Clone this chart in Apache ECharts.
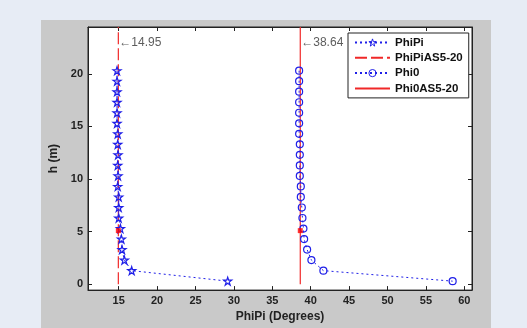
<!DOCTYPE html>
<html><head><meta charset="utf-8">
<script src="https://cdn.jsdelivr.net/npm/echarts@6/dist/echarts.min.js"></script>
<style>html,body{margin:0;padding:0;background:#e7ecf5;}#c{width:527px;height:328px;}</style>
</head><body><div id="c"></div>
<script>
const hValues = [20.3,19.3,18.3,17.3,16.3,15.3,14.3,13.3,12.3,11.3,10.3,9.3,8.3,7.3,6.3,5.3,4.3,3.3,2.3,1.3,0.3];
const phiPi = [14.78,14.78,14.78,14.78,14.78,14.78,14.87,14.87,14.91,14.87,14.91,14.87,15.0,15.0,15.0,15.22,15.35,15.43,15.74,16.69,29.19];
const phi0 = [38.49,38.49,38.49,38.49,38.49,38.49,38.49,38.58,38.58,38.58,38.58,38.71,38.71,38.84,38.92,39.05,39.14,39.53,40.09,41.65,58.48];
const phiPiAS = 14.95;
const phi0AS = 38.64;
const markH = 5.1;
const annotH = 23;
const xRange = [11, 61];
const yRange = [-0.55, 24.45];
const seriesNames = ['PhiPi','PhiPiAS5-20','Phi0','Phi0AS5-20'];

const blue = '#1f1fe8';
const red = '#f02828';
const clear = 'rgba(255,255,255,0)';
const star = 'path://M10,0L12.25,6.91L19.51,6.91L13.63,11.18L15.88,18.09L10,13.82L4.12,18.09L6.37,11.18L0.49,6.91L7.75,6.91Z';
const font = 'Liberation Sans, Arial, sans-serif';

const chart = echarts.init(document.getElementById('c'), null, {renderer:'canvas'});
const zip = (xs, ys) => xs.map((x,i)=>[x, ys[i]]);
const labelFmt = v => (Math.abs(v % 5) < 1e-9 ? String(v) : '');
const axisCommon = {
  axisLine:{show:true, onZero:false, lineStyle:{color:'#222', width:1}},
  axisTick:{show:true, inside:true, length:4, lineStyle:{color:'#222'}},
  splitLine:{show:false},
};
chart.setOption({
  backgroundColor:'#e7ecf5',
  animation:false,
  graphic:[{type:'rect', z:-10, silent:true, shape:{x:41,y:20,width:450,height:310}, style:{fill:'#c9c9c9'}}],
  grid:{left:88, right:55, top:27, bottom:28, show:true, backgroundColor:'#ffffff', borderColor:'#222', borderWidth:1},
  xAxis:[
    Object.assign({type:'value', min:xRange[0], max:xRange[1], splitNumber:10, position:'bottom',
      name:'PhiPi (Degrees)', nameLocation:'middle', nameGap:15,
      nameTextStyle:{fontFamily:font, fontWeight:'bold', fontSize:12, color:'#222'},
      axisLabel:{formatter:labelFmt, showMinLabel:false, showMaxLabel:false, margin:5, fontFamily:font, fontWeight:'bold', fontSize:11, color:'#222'}}, axisCommon),
    Object.assign({type:'value', min:xRange[0], max:xRange[1], splitNumber:10, position:'top',
      axisLabel:{show:false}}, axisCommon)
  ],
  yAxis:[
    Object.assign({type:'value', min:yRange[0], max:yRange[1], splitNumber:5, position:'left',
      name:'h (m)', nameLocation:'middle', nameGap:23,
      nameTextStyle:{fontFamily:font, fontWeight:'bold', fontSize:12, color:'#222'},
      axisLabel:{formatter:labelFmt, showMinLabel:false, showMaxLabel:false, margin:5, fontFamily:font, fontWeight:'bold', fontSize:11, color:'#222'}}, axisCommon),
    Object.assign({type:'value', min:yRange[0], max:yRange[1], splitNumber:5, position:'right',
      axisLabel:{show:false}}, axisCommon)
  ],
  legend:{
    data:[
      {name:seriesNames[0], itemStyle:{color:clear, borderColor:blue, borderWidth:1}},
      {name:seriesNames[1], itemStyle:{opacity:0}},
      {name:seriesNames[2], itemStyle:{color:clear, borderColor:blue, borderWidth:1}},
      {name:seriesNames[3], itemStyle:{opacity:0}}
    ],
    orient:'vertical', left:348, top:33,
    backgroundColor:'#ffffff', borderColor:'#222', borderWidth:1,
    padding:[3,6,3,6], itemGap:2.3, itemHeight:9, itemWidth:35,
    textStyle:{fontFamily:font, fontWeight:'bold', fontSize:11.5, color:'#111', lineHeight:13}
  },
  series:[
    {name:seriesNames[0], type:'line', data:zip(phiPi,hValues), symbol:star, symbolSize:8,
      itemStyle:{color:clear, borderColor:blue, borderWidth:1.2},
      lineStyle:{color:blue, width:1, type:[2,3]}, z:3},
    {name:seriesNames[1], type:'line', data:[[phiPiAS,0],[phiPiAS,yRange[1]]], symbol:'none',
      itemStyle:{color:red}, lineStyle:{color:red, width:1.2, type:[12,4]}, z:2},
    {name:seriesNames[2], type:'line', data:zip(phi0,hValues), symbol:'circle', symbolSize:7,
      itemStyle:{color:clear, borderColor:blue, borderWidth:1.2},
      lineStyle:{color:blue, width:1, type:[2,3]}, z:3},
    {name:seriesNames[3], type:'line', data:[[phi0AS,0],[phi0AS,yRange[1]]], symbol:'none',
      itemStyle:{color:red}, lineStyle:{color:red, width:1.2, type:'solid'}, z:2},
    {name:'marks', type:'scatter', data:[[phiPiAS,markH],[phi0AS,markH]], symbol:'rect', symbolSize:5,
      itemStyle:{color:'#ff0000'}, z:4},
    {name:'annot', type:'scatter', data:[[phiPiAS,annotH,'\u2190'+phiPiAS],[phi0AS,annotH,'\u2190'+phi0AS]], symbolSize:0,
      label:{show:true, position:'right', distance:1, formatter:p=>p.data[2], fontFamily:font, fontSize:12, color:'#333'}, z:4}
  ]
});
</script></body></html>
